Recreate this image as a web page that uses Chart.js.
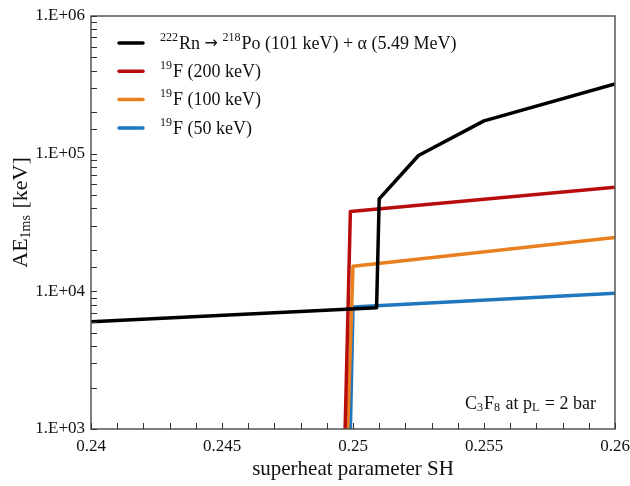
<!DOCTYPE html>
<html>
<head>
<meta charset="utf-8">
<script src="https://cdn.jsdelivr.net/npm/chart.js@4.4.1/dist/chart.umd.min.js"></script>
<style>
  html, body { margin: 0; padding: 0; background: #fff; }
  #wrap { width: 630px; height: 486px; }
</style>
</head>
<body>
<div id="wrap"><canvas id="c" width="630" height="486"></canvas></div>
<script>
// data
const xRn = [0.24, 0.2509, 0.2510, 0.2525, 0.2550, 0.26];
const yRn = [6000, 7600, 47000, 97000, 173000, 321000];
const xF200 = [0.2497, 0.2499, 0.26];
const yF200 = [1000, 38000, 57000];
const xF100 = [0.2498, 0.2500, 0.26];
const yF100 = [1000, 15200, 24600];
const xF50 = [0.2499, 0.2500, 0.26];
const yF50 = [1000, 7700, 9700];

const xTickLabels = ['0.24', '0.245', '0.25', '0.255', '0.26'];
const yTickLabels = ['1.E+03', '1.E+04', '1.E+05', '1.E+06'];

const colors = ['#000000', '#b80d0d', '#e8801f', '#1f77bf'];
// legend rows: [text, style] pieces, 'sup' / 'sub' / 'sym' / ''
const legendRows = [
    [['222', 'sup'], ['Rn ', ''], ['\u2192', 'sym'], [' ', ''], ['218', 'sup'], ['Po (101 keV) + \u03b1 (5.49 MeV)', '']],
    [['19', 'sup'], ['F (200 keV)', '']],
    [['19', 'sup'], ['F (100 keV)', '']],
    [['19', 'sup'], ['F (50 keV)', '']]
];

const SERIF = '"Liberation Serif", "DejaVu Serif", serif';

function pts(xs, ys) {
    return xs.map((x, i) => ({ x: x, y: ys[i] }));
}

// draw text made of pieces with super/subscripts, returns width
function richText(ctx, pieces, x, y, size, measureOnly) {
    let cx = x;
    pieces.forEach(([t, s]) => {
        let fs = size, fam = SERIF, dy = 0, gap = 0;
        if (s === 'sup') { fs = Math.round(size * 0.64); dy = -size * 0.36; gap = 1; }
        if (s === 'sub') { fs = Math.round(size * 0.64); dy = size * 0.24; gap = 1; }
        if (s === 'sym') { fs = Math.round(size * 0.9); fam = '"DejaVu Sans", sans-serif'; }
        ctx.font = fs + 'px ' + fam;
        if (!measureOnly) ctx.fillText(t, cx, y + dy);
        cx += ctx.measureText(t).width + gap;
    });
    return cx - x;
}

const decorPlugin = {
    id: 'decor',
    afterDatasetsDraw(chart) {
        const ctx = chart.ctx;
        const a = chart.chartArea;
        const xs = chart.scales.x, ys = chart.scales.y;
        ctx.save();

        // frame
        ctx.strokeStyle = '#555';
        ctx.lineWidth = 1.5;
        ctx.strokeRect(a.left, a.top, a.right - a.left, a.bottom - a.top);

        // inner tick marks
        ctx.strokeStyle = '#333';
        ctx.lineWidth = 1;
        ctx.beginPath();
        xs.ticks.forEach(t => {
            const px = Math.round(xs.getPixelForValue(t.value)) + 0.5;
            ctx.moveTo(px, a.bottom);
            ctx.lineTo(px, a.bottom - 6);
        });
        ys.ticks.forEach(t => {
            const py = Math.round(ys.getPixelForValue(t.value)) + 0.5;
            ctx.moveTo(a.left, py);
            ctx.lineTo(a.left + 6, py);
        });
        ctx.stroke();

        // legend
        ctx.fillStyle = '#111';
        ctx.textBaseline = 'middle';
        ctx.textAlign = 'left';
        legendRows.forEach((row, i) => {
            const y = a.top + 27 + i * 28.3;
            ctx.strokeStyle = colors[i];
            ctx.lineWidth = 3.5;
            ctx.lineCap = 'round';
            ctx.beginPath();
            ctx.moveTo(a.left + 28, y);
            ctx.lineTo(a.left + 52, y);
            ctx.stroke();
            richText(ctx, row, a.left + 69, y + 1, 18);
        });

        // annotation
        const note = [['C', ''], ['3', 'sub'], ['F', ''], ['8', 'sub'], [' at p', ''], ['L', 'sub'], [' = 2 bar', '']];
        const w = richText(ctx, note, 0, 0, 18, true);
        richText(ctx, note, a.right - 19 - w, a.bottom - 25, 18);

        // x title
        ctx.font = '21px ' + SERIF;
        ctx.textAlign = 'center';
        ctx.fillText('superheat parameter SH', (a.left + a.right) / 2, 469);

        // y title, rotated
        ctx.translate(21, (a.top + a.bottom) / 2 - 10);
        ctx.rotate(-Math.PI / 2);
        ctx.textAlign = 'left';
        const yt = [['AE', ''], ['1ms', 'sub'], [' [keV]', '']];
        const yw = richText(ctx, yt, 0, 0, 22, true);
        richText(ctx, yt, -yw / 2, 0, 22);
        ctx.restore();
    }
};

const lineStyle = { borderWidth: 3.5, pointRadius: 0, tension: 0, fill: false, borderJoinStyle: 'round' };

new Chart(document.getElementById('c'), {
    type: 'line',
    data: {
        datasets: [
            Object.assign({ label: 'Rn', data: pts(xRn, yRn), borderColor: colors[0] }, lineStyle),
            Object.assign({ label: 'F200', data: pts(xF200, yF200), borderColor: colors[1] }, lineStyle),
            Object.assign({ label: 'F100', data: pts(xF100, yF100), borderColor: colors[2] }, lineStyle),
            Object.assign({ label: 'F50', data: pts(xF50, yF50), borderColor: colors[3] }, lineStyle)
        ]
    },
    options: {
        responsive: false,
        animation: false,
        layout: { padding: { top: 16, right: 15, left: 0, bottom: 0 } },
        plugins: { legend: { display: false }, tooltip: { enabled: false } },
        scales: {
            x: {
                type: 'linear',
                min: 0.24,
                max: 0.26,
                grid: { display: false, drawTicks: false },
                border: { display: false },
                ticks: {
                    stepSize: 0.001,
                    autoSkip: false,
                    maxRotation: 0,
                    padding: 7,
                    color: '#111',
                    font: { family: SERIF, size: 17 },
                    callback: v => {
                        const lbl = xTickLabels.find(s => Math.abs(parseFloat(s) - v) < 1e-7);
                        return lbl || '';
                    }
                },
                afterFit: s => { s.height = 57; s.paddingLeft = 0; s.paddingRight = 0; }
            },
            y: {
                type: 'logarithmic',
                min: 1000,
                max: 1000000,
                grid: { display: false, drawTicks: false },
                border: { display: false },
                ticks: {
                    autoSkip: false,
                    padding: 6,
                    color: '#111',
                    font: { family: SERIF, size: 17 },
                    callback: v => {
                        const e = Math.log10(v);
                        if (Math.abs(e - Math.round(e)) > 1e-9) return '';
                        return yTickLabels[Math.round(e) - 3] || '';
                    }
                },
                afterFit: s => { s.width = 91; s.paddingTop = 0; s.paddingBottom = 0; }
            }
        }
    },
    plugins: [decorPlugin]
});
</script>
</body>
</html>
